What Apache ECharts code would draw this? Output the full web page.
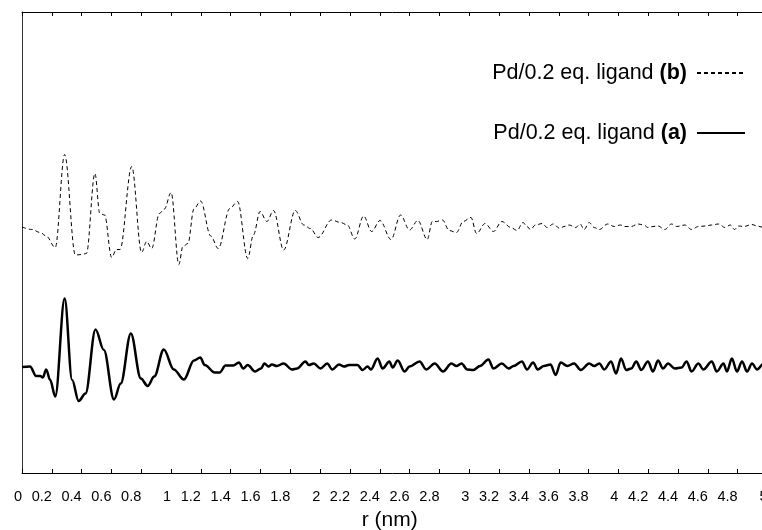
<!DOCTYPE html>
<html>
<head>
<meta charset="utf-8">
<script src="https://cdn.jsdelivr.net/npm/echarts@6/dist/echarts.min.js"></script>
<style>
  html, body { margin: 0; padding: 0; background: #fff; }
  #chart { width: 762px; height: 530px; }
</style>
</head>
<body>
<div id="chart"></div>
<script>
// r (nm) and G(r) (arb. units)
const rA = [0, 0.054, 0.095, 0.122, 0.140, 0.162, 0.189, 0.223, 0.286, 0.336,
  0.380, 0.426, 0.493, 0.549, 0.617, 0.662, 0.730, 0.797, 0.843, 0.887,
  0.951, 1.018, 1.086, 1.153, 1.196, 1.225, 1.293, 1.326, 1.365, 1.417,
  1.455, 1.484, 1.514, 1.563, 1.603, 1.626, 1.653, 1.676, 1.709, 1.755,
  1.811, 1.845, 1.901, 1.924, 1.957, 2.002, 2.047, 2.081, 2.126, 2.160,
  2.194, 2.250, 2.284, 2.318, 2.340, 2.385, 2.419, 2.464, 2.486, 2.520,
  2.566, 2.599, 2.667, 2.711, 2.768, 2.824, 2.880, 2.914, 2.948, 2.986,
  3.027, 3.072, 3.128, 3.162, 3.218, 3.264, 3.297, 3.353, 3.387, 3.428,
  3.459, 3.500, 3.545, 3.579, 3.613, 3.657, 3.703, 3.748, 3.804, 3.838,
  3.872, 3.905, 3.951, 3.984, 4.018, 4.052, 4.086, 4.120, 4.153, 4.198,
  4.232, 4.266, 4.299, 4.333, 4.378, 4.424, 4.457, 4.491, 4.536, 4.570,
  4.626, 4.660, 4.705, 4.728, 4.761, 4.795, 4.829, 4.863, 4.896, 4.930,
  4.975, 5.0];
const gA = [0, 0.01, -0.18, -0.18, -0.21, -0.05, -0.26, -0.59, 1.37, -0.26,
  -0.68, -0.53, 0.75, 0.34, -0.65, -0.33, 0.67, -0.23, -0.38, -0.19,
  0.35, -0.05, -0.25, 0.13, 0.19, 0.04, -0.11, -0.11, 0.03, 0.03,
  0.09, -0.03, 0.04, -0.09, -0.03, 0.07, 0.01, 0.05, 0.02, 0.07,
  -0.05, -0.03, 0.11, 0.04, 0.07, -0.03, 0.07, -0.05, 0.05, 0.01,
  0.04, 0.04, -0.06, 0.01, -0.05, 0.17, -0.03, 0.11, -0.01, 0.13,
  -0.09, 0.01, 0.11, -0.05, 0.07, -0.09, 0.07, 0.02, 0.07, -0.05,
  -0.06, 0.02, 0.15, -0.03, 0.07, -0.03, 0.02, 0.11, -0.05, 0.09,
  -0.05, 0.02, 0.05, -0.16, 0.09, 0.02, 0.07, -0.06, 0.07, 0.02,
  0.07, -0.05, 0.11, -0.13, 0.17, -0.06, -0.03, 0.11, -0.06, 0.11,
  -0.09, 0.13, -0.03, 0.07, -0.03, -0.01, 0.11, -0.09, 0.07, -0.05,
  0.11, -0.09, 0.07, -0.09, 0.17, -0.09, 0.11, -0.09, 0.07, -0.05,
  0.07, 0.01];

const rB = [0, 0.066, 0.122, 0.162, 0.223, 0.286, 0.358, 0.403, 0.432, 0.489,
  0.522, 0.554, 0.601, 0.633, 0.657, 0.736, 0.802, 0.836, 0.870, 0.921,
  0.955, 1.000, 1.052, 1.079, 1.113, 1.153, 1.198, 1.266, 1.316, 1.394,
  1.446, 1.514, 1.552, 1.597, 1.642, 1.687, 1.755, 1.833, 1.890, 1.934,
  1.986, 2.076, 2.137, 2.182, 2.232, 2.291, 2.345, 2.401, 2.475, 2.539,
  2.599, 2.655, 2.718, 2.752, 2.779, 2.820, 2.865, 2.914, 2.959, 3.011,
  3.049, 3.106, 3.162, 3.218, 3.279, 3.320, 3.360, 3.387, 3.410, 3.444,
  3.489, 3.522, 3.563, 3.608, 3.635, 3.669, 3.714, 3.743, 3.770, 3.804,
  3.838, 3.872, 3.928, 3.973, 4.014, 4.041, 4.086, 4.131, 4.171, 4.198,
  4.232, 4.266, 4.311, 4.356, 4.390, 4.446, 4.491, 4.536, 4.581, 4.626,
  4.671, 4.716, 4.750, 4.779, 4.806, 4.840, 4.896, 4.930, 4.975, 5.0];
const gB = [0, -0.05, -0.11, -0.18, -0.41, 1.45, -0.56, -0.55, -0.53, 1.07,
  0.27, 0.24, -0.61, -0.45, -0.45, 1.21, -0.51, -0.29, -0.43, 0.27,
  0.36, 0.69, -0.75, -0.39, -0.33, 0.36, 0.52, -0.18, -0.43, 0.37,
  0.51, -0.63, -0.16, 0.31, 0.11, 0.33, -0.46, 0.33, 0.04, -0.03,
  -0.21, 0.14, 0.09, 0.04, -0.24, 0.22, -0.09, 0.13, -0.25, 0.24,
  -0.06, 0.13, -0.25, 0.11, 0.11, 0.14, -0.07, -0.11, 0.11, 0.19,
  -0.13, 0.07, -0.09, 0.11, -0.01, -0.07, 0.09, 0.01, -0.05, 0.04,
  0.07, -0.01, 0.06, -0.03, 0.01, 0.04, -0.01, 0.06, -0.05, 0.09,
  -0.01, -0.05, 0.06, 0.01, 0.04, 0.01, 0.01, 0.06, 0.04, -0.01,
  0.01, 0.02, -0.05, 0.06, 0.01, 0.04, -0.05, 0.01, 0.02, 0.04,
  0.06, -0.01, 0.04, -0.05, 0.02, 0.01, 0.05, 0.02, -0.01, 0];

// curve (b) is drawn shifted up by this much
const offsetB = 2.8;

const nameA = 'Pd/0.2 eq. ligand {b|(a)}';
const nameB = 'Pd/0.2 eq. ligand {b|(b)}';

const font = 'Liberation Sans, Arial, Helvetica, sans-serif';
const chart = echarts.init(document.getElementById('chart'));

const fmtR = (v) => String(+v.toFixed(1));

const legendText = {
  fontFamily: font,
  fontSize: 21.5,
  color: '#000',
  padding: [0, 5, 0, 0],
  rich: { b: { fontFamily: font, fontSize: 21.5, fontWeight: 'bold', color: '#000' } },
};

const legendBase = {
  right: 11, align: 'right', itemWidth: 48, itemHeight: 14,
  selectedMode: false, textStyle: legendText,
  itemStyle: { color: 'transparent', borderWidth: 0, opacity: 0 },
};

chart.setOption({
  animation: false,
  backgroundColor: '#fff',
  // the right end of the frame (r = 5) sits just past the window edge
  grid: { left: 22, right: -5.5, top: 12, bottom: 57, containLabel: false, outerBoundsMode: 'none' },
  legend: [
    Object.assign({ data: [nameB], top: 57 }, legendBase),
    Object.assign({ data: [nameA], top: 117 }, legendBase),
  ],
  xAxis: [
    {
      type: 'value', min: 0, max: 5, interval: 0.2, position: 'bottom',
      name: 'r (nm)', nameLocation: 'middle', nameGap: 37,
      nameTextStyle: { fontFamily: font, fontSize: 21, color: '#000', padding: [0, 10, 0, 0] },
      axisLine: { show: true, onZero: false, lineStyle: { color: '#000', width: 1 } },
      axisTick: { show: true, inside: true, length: 4, lineStyle: { color: '#000' } },
      axisLabel: {
        interval: 0, margin: 16, fontFamily: font, fontSize: 14.5, color: '#000',
        align: 'right', formatter: fmtR, hideOverlap: false,
      },
      splitLine: { show: false },
    },
    {
      type: 'value', min: 0, max: 5, interval: 0.2, position: 'top',
      axisLine: { show: true, onZero: false, lineStyle: { color: '#000', width: 1 } },
      axisTick: { show: true, inside: true, length: 4, lineStyle: { color: '#000' } },
      axisLabel: { show: false },
      splitLine: { show: false },
    },
  ],
  yAxis: {
    type: 'value', min: -2.12, max: 7.1,
    axisLine: { show: true, onZero: false, lineStyle: { color: '#333', width: 1 } },
    axisTick: { show: false },
    axisLabel: { show: false },
    splitLine: { show: false },
  },
  series: [
    {
      name: nameB, type: 'line', xAxisIndex: 0,
      data: rB.map((r, i) => [r, gB[i] + offsetB]),
      showSymbol: false, symbol: 'none', smooth: 0.35, smoothMonotone: 'x',
      lineStyle: { color: '#000', width: 1, type: [4, 3] },
      itemStyle: { color: '#000' },
    },
    {
      name: nameA, type: 'line', xAxisIndex: 0,
      data: rA.map((r, i) => [r, gA[i]]),
      showSymbol: false, symbol: 'none', smooth: 0.35, smoothMonotone: 'x',
      lineStyle: { color: '#000', width: 2.5 },
      itemStyle: { color: '#000' },
    },
  ],
});
</script>
</body>
</html>
